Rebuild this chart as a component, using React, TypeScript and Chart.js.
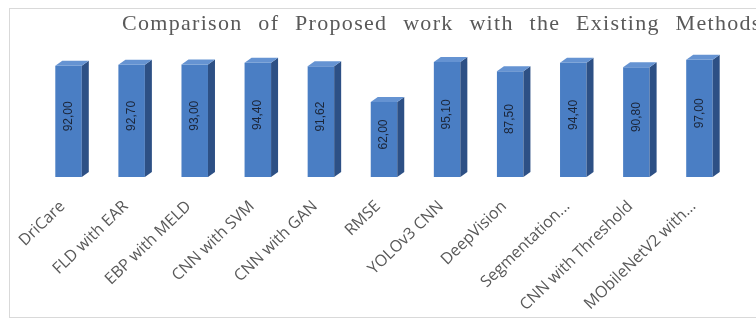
import React, { useEffect, useRef } from 'react';
import { Chart, registerables } from 'chart.js';

Chart.register(...registerables);

const TITLE = 'Comparison of Proposed work with the Existing Methods';
const categories = [
  'DriCare',
  'FLD with EAR',
  'EBP with MELD',
  'CNN with SVM',
  'CNN with GAN',
  'RMSE',
  'YOLOv3 CNN',
  'DeepVision',
  'Segmentation...',
  'CNN with Threshold',
  'MObileNetV2 with...',
];
const accuracy = [92.0, 92.7, 93.0, 94.4, 91.62, 62.0, 95.1, 87.5, 94.4, 90.8, 97.0];
const yMin = 0;
const yMax = 100;

const FRONT = '#4a7ec4';
const SIDE = '#2d5085';
const TOP = '#6593d2';

const formatValue = (v: number) => v.toFixed(2).replace('.', ',');

const framePlugin = {
  id: 'frame',
  beforeDraw(chart: any) {
    const ctx = chart.ctx;
    ctx.save();
    ctx.fillStyle = '#ffffff';
    ctx.fillRect(0, 0, chart.width, chart.height);
    ctx.strokeStyle = '#d9d9d9';
    ctx.lineWidth = 1;
    ctx.strokeRect(9.5, 8.5, chart.width + 40, chart.height - 11);
    ctx.restore();
  },
};

const titlePlugin = {
  id: 'spacedTitle',
  afterDraw(chart: any) {
    const ctx = chart.ctx;
    ctx.save();
    ctx.font = '22px "Liberation Serif", serif';
    (ctx as any).letterSpacing = '1.3px';
    (ctx as any).wordSpacing = '9px';
    ctx.fillStyle = '#595959';
    ctx.textAlign = 'left';
    ctx.textBaseline = 'alphabetic';
    ctx.fillText(TITLE, 122, 30);
    ctx.restore();
  },
};

const bar3dPlugin = {
  id: 'bar3d',
  afterDatasetsDraw(chart: any) {
    const ctx = chart.ctx;
    const meta = chart.getDatasetMeta(0);
    const dx = 7;
    const dy = 5;
    ctx.save();
    meta.data.forEach((bar: any, i: number) => {
      const { x, y, base, width } = bar.getProps(['x', 'y', 'base', 'width'], true);
      const left = x - width / 2;
      const right = x + width / 2;
      // side face
      ctx.beginPath();
      ctx.moveTo(right, y);
      ctx.lineTo(right + dx, y - dy);
      ctx.lineTo(right + dx, base - dy);
      ctx.lineTo(right, base);
      ctx.closePath();
      ctx.fillStyle = SIDE;
      ctx.fill();
      // top face
      ctx.beginPath();
      ctx.moveTo(left, y);
      ctx.lineTo(left + dx, y - dy);
      ctx.lineTo(right + dx, y - dy);
      ctx.lineTo(right, y);
      ctx.closePath();
      ctx.fillStyle = TOP;
      ctx.fill();
      // value label (rotated 270°, reading bottom to top)
      const cy = (y + base) / 2 - 5;
      ctx.save();
      ctx.translate(x, cy);
      ctx.rotate(-Math.PI / 2);
      ctx.font = '12px "Liberation Sans", Arial, sans-serif';
      ctx.fillStyle = '#1b2538';
      ctx.textAlign = 'center';
      ctx.textBaseline = 'middle';
      ctx.fillText(formatValue(accuracy[i]), 0, 0);
      ctx.restore();
    });
    ctx.restore();
  },
};

export default function App() {
  const canvasRef = useRef<HTMLCanvasElement | null>(null);

  useEffect(() => {
    if (!canvasRef.current) return;
    const chart = new Chart(canvasRef.current, {
      type: 'bar',
      data: {
        labels: categories,
        datasets: [
          {
            label: 'Accuracy',
            data: accuracy,
            backgroundColor: FRONT,
            borderWidth: 0,
            categoryPercentage: 1,
            barPercentage: 0.42,
          },
        ],
      },
      options: {
        animation: false,
        responsive: true,
        maintainAspectRatio: false,
        layout: { padding: { left: 37, right: 25, top: 56, bottom: 8 } },
        plugins: {
          legend: { display: false },
          title: { display: false },
          tooltip: { enabled: false },
        },
        scales: {
          x: {
            grid: { display: false, drawTicks: false },
            border: { display: false },
            ticks: {
              autoSkip: false,
              maxRotation: 44,
              minRotation: 44,
              padding: 20,
              labelOffset: -6,
              color: '#595959',
              font: { family: '"Open Sans", sans-serif', size: 16 },
            },
            afterFit: (scale: any) => {
              scale.height = 135;
            },
          },
          y: {
            display: false,
            min: yMin,
            max: yMax,
          },
        },
      },
      plugins: [framePlugin, bar3dPlugin, titlePlugin],
    });
    return () => chart.destroy();
  }, []);

  return (
    <div style={{ position: 'fixed', left: 0, top: 0, width: 756, height: 320, background: '#fff' }}>
      <canvas ref={canvasRef} />
    </div>
  );
}
